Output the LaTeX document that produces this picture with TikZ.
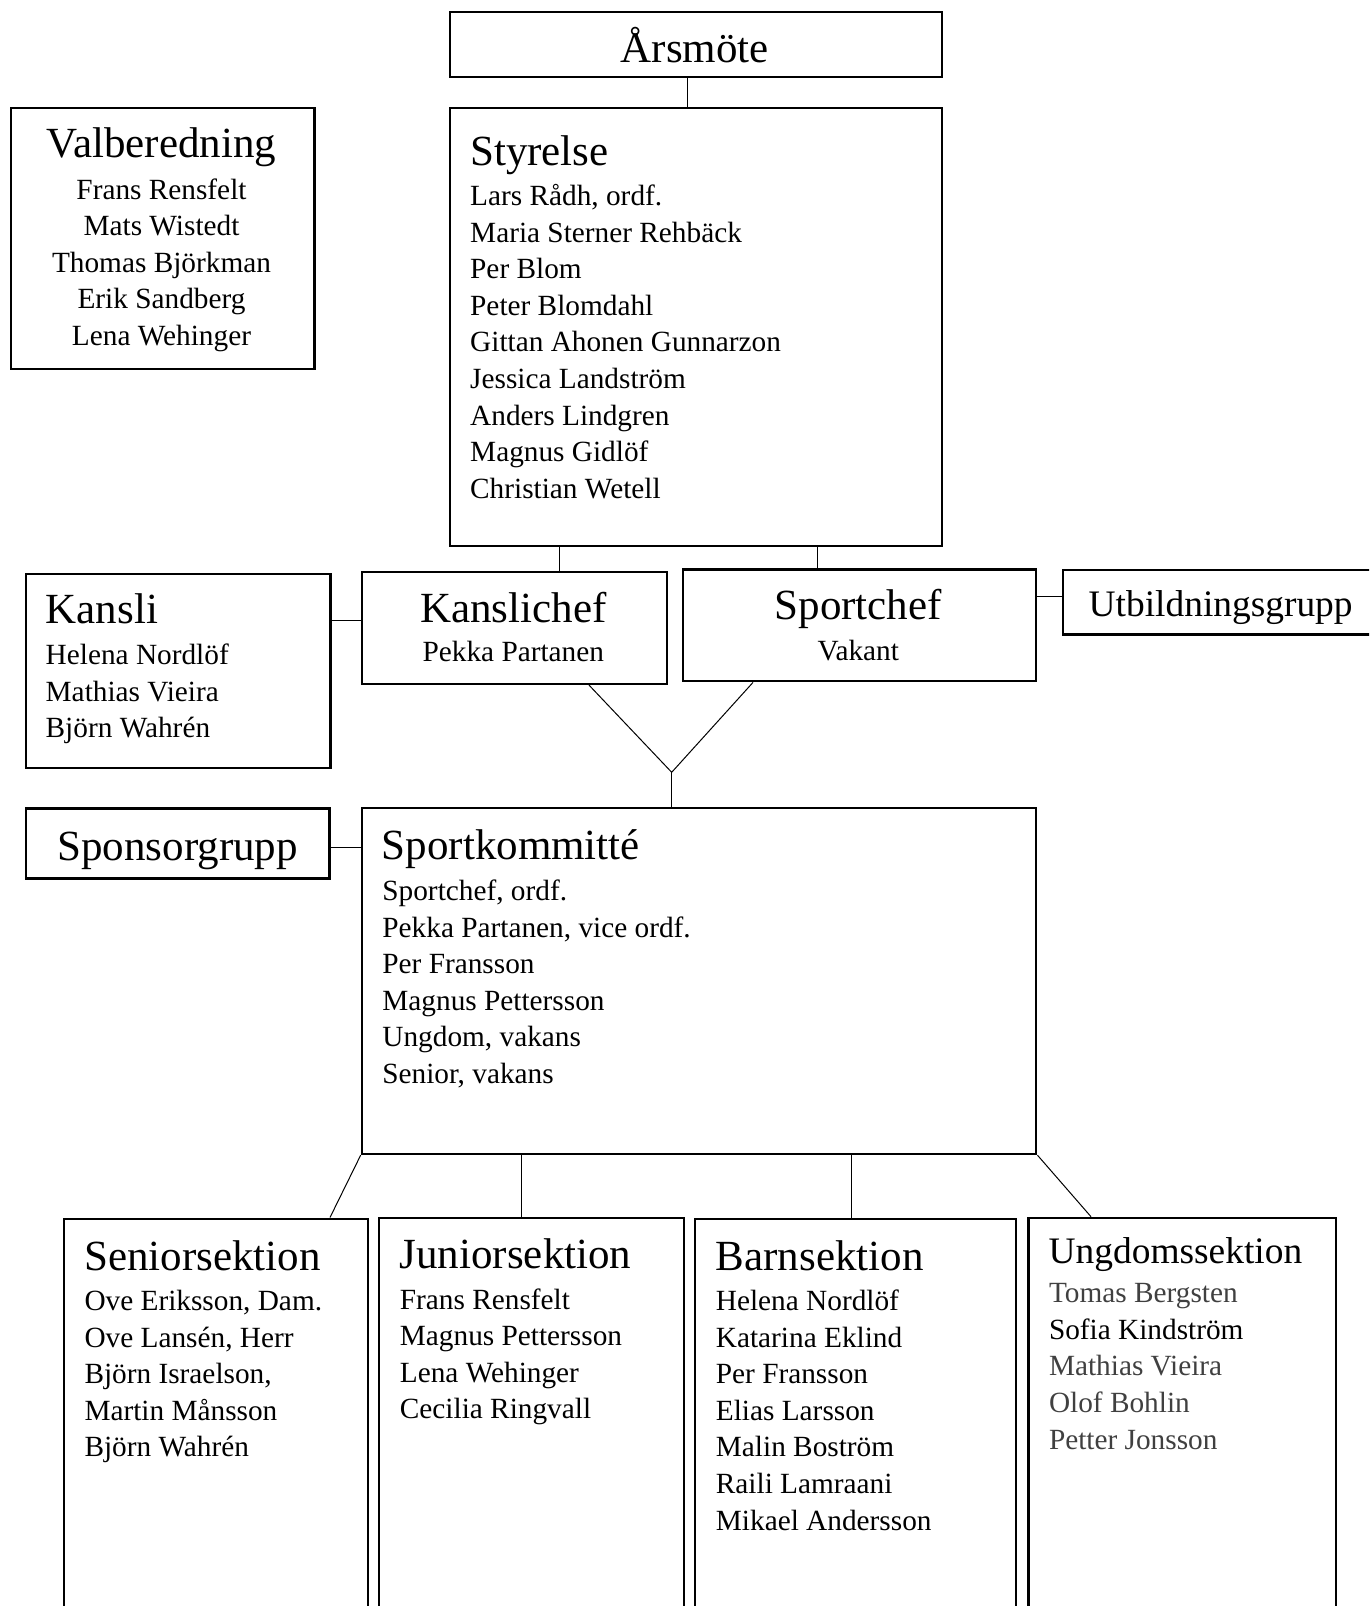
\documentclass[tikz,border=0pt]{standalone}
\usepackage{fontspec}
\setmainfont{Liberation Serif}
\definecolor{txtgrey}{RGB}{64,64,64}
\newcommand\bodyfs{\fontsize{29.3}{36.6}\selectfont}
\newcommand\titlefs{\fontsize{43}{50}\selectfont}
\newcommand\midfs{\fontsize{37.4}{44}\selectfont}
\begin{document}
\begin{tikzpicture}[x=1pt,y=-1pt,
  orgbox/.style={draw, line width=2.4pt, inner sep=0pt, anchor=north west},
  conn/.style={line width=1pt},
  ttlL/.style={anchor=base west, inner sep=0pt, font=\titlefs},
  ttlC/.style={anchor=base, inner sep=0pt, font=\titlefs},
  midL/.style={anchor=base west, inner sep=0pt, font=\midfs},
  lstL/.style={anchor=base west, inner sep=0pt, font=\bodyfs},
  lstC/.style={anchor=base, inner sep=0pt, font=\bodyfs}]
\useasboundingbox (0,0) rectangle (1369,1606);
\clip (0,0) rectangle (1369,1606);

% boxes
\node[orgbox, minimum width=492.3pt, minimum height=65pt] (arsmote) at (448.7,10.7) {};
\node[orgbox, minimum width=492.3pt, minimum height=438.5pt] (styrelse) at (448.7,106.5) {};
\node[orgbox, minimum width=303.8pt, minimum height=261pt] (valb) at (9.6,106.7) {};
\node[orgbox, minimum width=304.3pt, minimum height=194pt] (kansli) at (25,572.7) {};
\node[orgbox, minimum width=304.7pt, minimum height=112pt] (kanslichef) at (361,570.7) {};
\node[orgbox, minimum width=353.3pt, minimum height=111.7pt] (sportchef) at (681.7,568.3) {};
\node[orgbox, minimum width=320pt, minimum height=64.3pt] (utb) at (1061.7,569) {};
\node[orgbox, minimum width=303.3pt, minimum height=70pt] (sponsor) at (25,807.3) {};
\node[orgbox, minimum width=674.3pt, minimum height=345.7pt] (sportkom) at (360.7,807) {};
\node[orgbox, minimum width=303.8pt, minimum height=420pt] (senior) at (62.9,1217.5) {};
\node[orgbox, minimum width=304.7pt, minimum height=420pt] (junior) at (378,1217) {};
\node[orgbox, minimum width=321pt, minimum height=420pt] (barn) at (694,1217.5) {};
\node[orgbox, minimum width=307.7pt, minimum height=420pt] (ungdom) at (1027.3,1216.7) {};

% connectors
\coordinate (c1) at (687,0);
\draw[conn] (arsmote.south -| c1) -- (styrelse.north -| c1);
\coordinate (c2) at (559,0);
\draw[conn] (styrelse.south -| c2) -- (kanslichef.north -| c2);
\coordinate (c3) at (817,0);
\draw[conn] (styrelse.south -| c3) -- (sportchef.north -| c3);
\coordinate (c4) at (0,620.7);
\draw[conn] (kansli.east |- c4) -- (kanslichef.west |- c4);
\coordinate (c5) at (0,596.7);
\draw[conn] (sportchef.east |- c5) -- (utb.west |- c5);
\coordinate (c6) at (0,847.5);
\draw[conn] (sponsor.east |- c6) -- (sportkom.west |- c6);
\coordinate (vm) at (671.7,772.3);
\coordinate (c7) at (589,0);
\coordinate (c8) at (753,0);
\draw[conn] (kanslichef.south -| c7) -- (vm) -- (sportchef.south -| c8);
\draw[conn] (vm) -- (sportkom.north -| vm);
\coordinate (c9) at (330,0);
\draw[conn] (sportkom.south west) -- (senior.north -| c9);
\coordinate (c10) at (521,0);
\draw[conn] (sportkom.south -| c10) -- (junior.north -| c10);
\coordinate (c11) at (851,0);
\draw[conn] (sportkom.south -| c11) -- (barn.north -| c11);
\coordinate (c12) at (1091,0);
\draw[conn] (sportkom.south east) -- (ungdom.north -| c12);

% texts
\node[ttlC] (t-ars) at (694.7,62.5) {Årsmöte};

\node[ttlC] (t-valb) at (161.5,157) {Valberedning};
\node[lstC] (l-valb) at (161.5,199) {\begin{tabular}[t]{@{}c@{}}Frans Rensfelt\\Mats Wistedt\\Thomas Björkman\\Erik Sandberg\\Lena Wehinger\end{tabular}};

\node[ttlL] (t-sty) at (470,165) {Styrelse};
\node[lstL] (l-sty) at (470,205.5) {\begin{tabular}[t]{@{}l@{}}Lars Rådh, ordf.\\Maria Sterner Rehbäck\\Per Blom\\Peter Blomdahl\\Gittan Ahonen Gunnarzon\\Jessica Landström\\Anders Lindgren\\Magnus Gidlöf\\Christian Wetell\end{tabular}};

\node[ttlL] (t-kansli) at (45.5,623.3) {Kansli};
\node[lstL] (l-kansli) at (45.5,664.5) {\begin{tabular}[t]{@{}l@{}}Helena Nordlöf\\Mathias Vieira\\Björn Wahrén\end{tabular}};

\node[ttlC] (t-kchef) at (513.3,622.7) {Kanslichef};
\node[lstC] (l-kchef) at (513.3,661.5) {Pekka Partanen};

\node[ttlC] (t-schef) at (858.3,619.5) {Sportchef};
\node[lstC] (l-schef) at (858.3,660) {Vakant};

\node[midL] (t-utb) at (1088.5,616.5) {Utbildningsgrupp};

\node[ttlC] (t-spons) at (177.7,860.5) {Sponsorgrupp};

\node[ttlL] (t-skom) at (381.7,859) {Sportkommitté};
\node[lstL] (l-skom) at (382.2,900.5) {\begin{tabular}[t]{@{}l@{}}Sportchef, ordf.\\Pekka Partanen, vice ordf.\\Per Fransson\\Magnus Pettersson\\Ungdom, vakans\\Senior, vakans\end{tabular}};

\node[ttlL] (t-sen) at (84,1270.3) {Seniorsektion};
\node[lstL] (l-sen) at (84.3,1310.5) {\begin{tabular}[t]{@{}l@{}}Ove Eriksson, Dam.\\Ove Lansén, Herr\\Björn Israelson,\\Martin Månsson\\Björn Wahrén\end{tabular}};

\node[ttlL] (t-jun) at (399.5,1268.7) {Juniorsektion};
\node[lstL] (l-jun) at (399.7,1309) {\begin{tabular}[t]{@{}l@{}}Frans Rensfelt\\Magnus Pettersson\\Lena Wehinger\\Cecilia Ringvall\end{tabular}};

\node[ttlL] (t-barn) at (715.5,1270.3) {Barnsektion};
\node[lstL] (l-barn) at (715.7,1310.5) {\begin{tabular}[t]{@{}l@{}}Helena Nordlöf\\Katarina Eklind\\Per Fransson\\Elias Larsson\\Malin Boström\\Raili Lamraani\\Mikael Andersson\end{tabular}};

\node[midL] (t-ung) at (1048.5,1263.7) {Ungdomssektion};
\node[lstL] (l-ung) at (1048.8,1302.7) {\begin{tabular}[t]{@{}l@{}}\color{txtgrey}Tomas Bergsten\\Sofia Kindström\\\color{txtgrey}Mathias Vieira\\\color{txtgrey}Olof Bohlin\\\color{txtgrey}Petter Jonsson\end{tabular}};
\end{tikzpicture}
\end{document}
